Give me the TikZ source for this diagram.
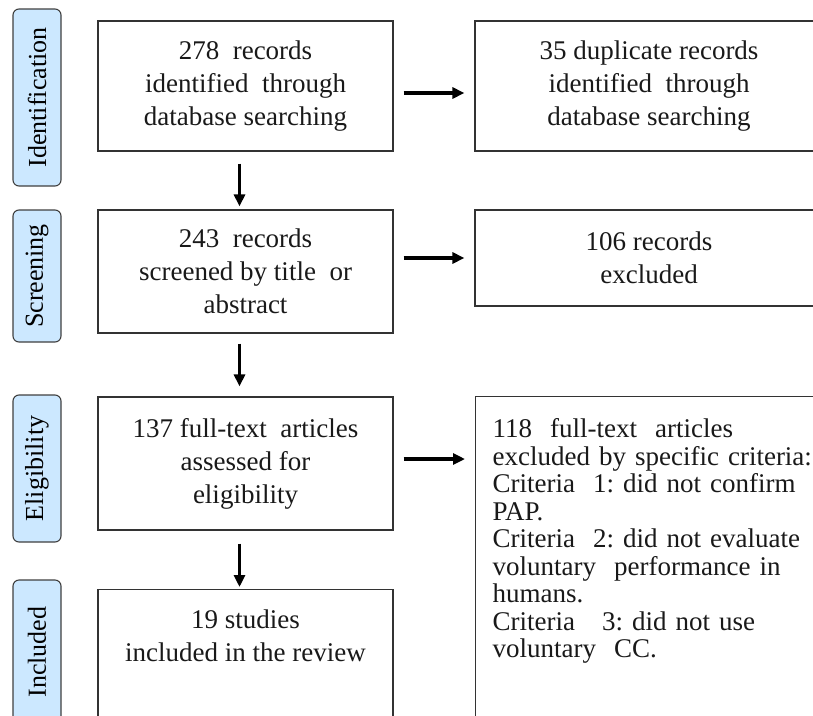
\documentclass[tikz,border=0pt]{standalone}
\usepackage{fontspec}
\setmainfont{Liberation Serif}
\usetikzlibrary{arrows.meta, positioning}
\definecolor{stageblue}{RGB}{204,232,255}
\frenchspacing

\begin{document}
\begin{tikzpicture}[
    x=1pt, y=-1pt,
    stage/.style={draw=black!75, fill=stageblue, rounded corners=6pt, line width=1.1pt,
        rotate=90, minimum height=48pt, inner sep=0pt, font=\fontsize{26}{30}\selectfont},
    box/.style={draw=black!80, line width=1.2pt, minimum width=295pt, inner sep=0pt,
        align=center, text=black!90, font=\fontsize{27}{33}\selectfont},
    sidebox/.style={box, minimum width=348pt},
    flow/.style={-{Triangle[length=12pt, width=11pt]}, line width=3.2pt}
]
    \useasboundingbox (0,0) rectangle (813,715);
    \clip (0,0) rectangle (813,715);

    % Identification
    \node[stage, minimum width=177pt] (sident) at (37,97.5) {Identification};
    \node[box, minimum height=130pt] (found) at (245.5,86) {278\ \ records\\identified\ \ through\\database searching};
    \node[sidebox, minimum height=130pt] (dupl) at (649,86) {35 duplicate records\\identified\ \ through\\database searching};

    % Screening
    \node[stage, minimum width=132pt] (sscreen) at (37,276) {Screening};
    \node[box, minimum height=123pt] (screen) at (245.5,271.5) {243\ \ records\\screened by title\ \ or\\abstract};
    \node[sidebox, minimum height=96pt] (excl) at (649,258) {106 records\\excluded};

    % Eligibility
    \node[stage, minimum width=147pt] (selig) at (37,468.5) {Eligibility};
    \node[box, minimum height=133pt] (assess) at (245.5,463.5) {137 full-text\ \ articles\\assessed for\\eligibility};
    \node[box, anchor=north west, text width=330pt, inner xsep=17pt, minimum height=347pt,
        align=left, font=\fontsize{27}{27.5}\selectfont] (crit) at (475,396)
        {118\ \ full-text\ \ articles\\excluded by specific criteria:\\Criteria\ \ 1: did not confirm\\PAP.\\Criteria\ \ 2: did not evaluate\\voluntary\ \ performance in\\humans.\\Criteria\ \ \ 3: did not use\\voluntary\ \ CC.\\\strut\\\strut};

    % Included
    \node[stage, minimum width=144pt] (sincl) at (37,652) {Included};
    \node[box, anchor=north, minimum height=134pt] (incl) at (245.5,589) {19 studies\\included in the review\\\strut};

    % arrows
    \coordinate (a3) at ([yshift=4.5pt]assess.east);
    \draw[flow, shorten <=10pt, shorten >=10pt] ([yshift=-7pt]found.east) -- ([yshift=-7pt]dupl.west);
    \draw[flow, shorten <=10pt, shorten >=10pt] ([yshift=13.5pt]screen.east) -- (excl.west);
    \draw[flow, shorten <=10pt, shorten >=10pt] (a3) -- (a3 -| crit.west);
    \draw[flow, shorten <=12pt, shorten >=3pt] ([xshift=-6pt]found.south) -- ([xshift=-6pt]screen.north);
    \draw[flow, shorten <=10pt, shorten >=10pt] ([xshift=-6pt]screen.south) -- ([xshift=-6pt]assess.north);
    \draw[flow, shorten <=13pt, shorten >=2pt] ([xshift=-6pt]assess.south) -- ([xshift=-6pt]incl.north);
\end{tikzpicture}
\end{document}
